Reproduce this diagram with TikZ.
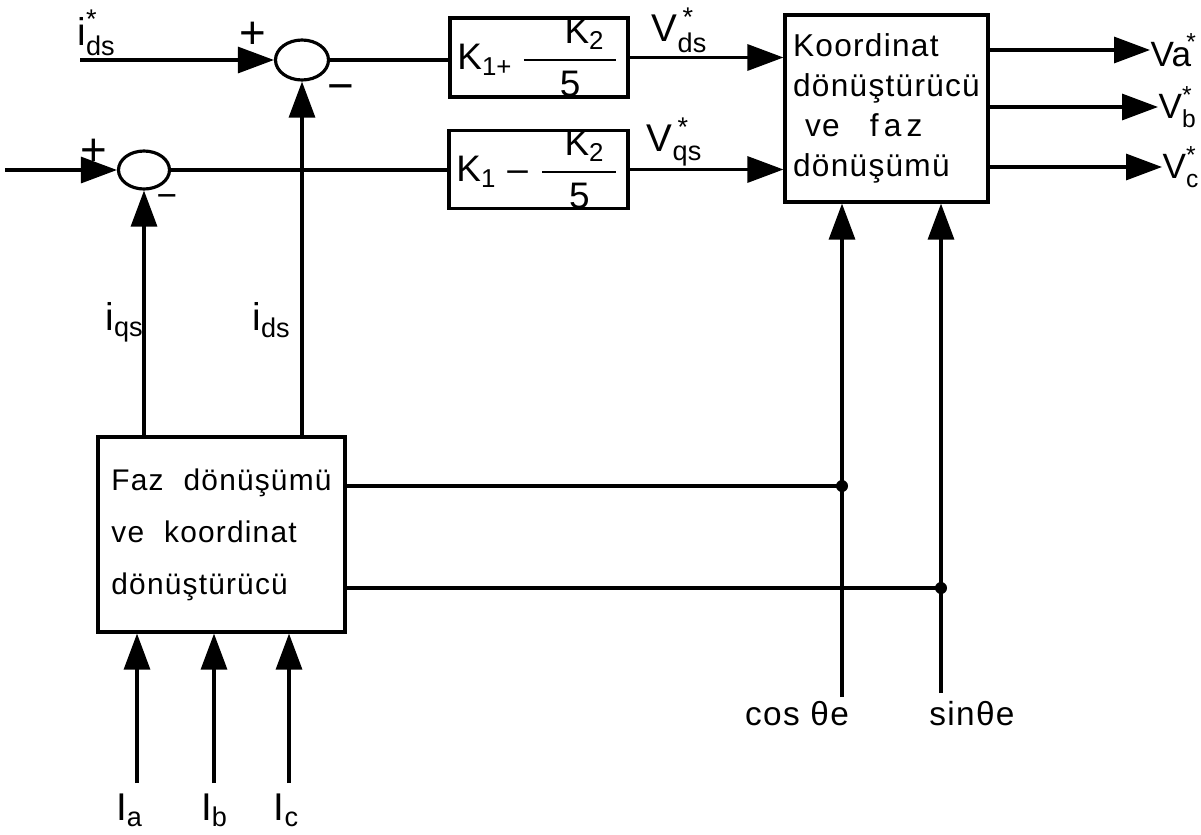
\documentclass[tikz,border=0pt]{standalone}
\usepackage{amsmath}
\usepackage{fontspec}
\setmainfont{Liberation Sans}
\newfontfamily\lett[LetterSpace=4]{Liberation Sans}
\usetikzlibrary{arrows.meta,positioning,calc,shapes.geometric}

\begin{document}
\begin{tikzpicture}[
  blk/.style={draw, line width=0.9pt, inner sep=0pt},
  sumj/.style={draw, ellipse, line width=0.9pt, inner sep=0pt},
  arrow/.style={-{Triangle[length=3.6mm,width=2.6mm]}, line width=0.9pt},
  wire/.style={line width=0.9pt},
  sig/.style={font=\fontsize{11}{13}\selectfont, inner sep=1pt},
  outsig/.style={font=\fontsize{10}{12}\selectfont, inner sep=0pt, anchor=west},
  sgn/.style={font=\fontsize{13}{13}\selectfont, inner sep=0pt},
  txt/.style={font=\lett\fontsize{9}{11.4}\selectfont, align=left}
]
\useasboundingbox (0,0) rectangle (12.01,-8.34);

% summing junctions
\node[sumj, minimum width=0.53cm, minimum height=0.40cm] (sumd) at (3.02,-0.60) {};
\node[sumj, minimum width=0.51cm, minimum height=0.38cm] (sumq) at (1.44,-1.70) {};

% controllers
\node[blk, minimum width=1.78cm, minimum height=0.79cm, font=\fontsize{10.5}{12}\selectfont] (kd) at (5.39,-0.575)
  {$\text{K}_{\text{1+}}\,\dfrac{\hspace{1.1em}\text{K}_{\text{2}}\hspace{0.3em}}{\text{5}}$};
\node[blk, minimum width=1.79cm, minimum height=0.77cm, font=\fontsize{10.5}{12}\selectfont] (kq) at (5.385,-1.695)
  {$\text{K}_{\text{1}}\ \text{–}\ \dfrac{\hspace{0.6em}\text{K}_{\text{2}}\hspace{0.3em}}{\text{5}}$};

% transformation blocks
\node[blk, txt, minimum width=2.03cm, minimum height=1.87cm] (tr) at (8.865,-1.085)
  {Koordinat\\dönüştürücü\\\hspace{1.2mm}ve\hspace{3mm}f\,a\,z\\dönüşümü};
\node[blk, txt, font=\lett\fontsize{8.5}{14.8}\selectfont, minimum width=2.47cm, minimum height=1.95cm] (ph) at (2.215,-5.345)
  {Faz\hspace{2mm}dönüşümü\\ve\hspace{2mm}koordinat\\dönüştürücü};

% signal labels
\node[sig] (lids) at (0.97,-0.33) {$\text{i}_{\text{ds}}^{\text{*}}$};
\node[sig] (lvd) at (6.80,-0.30) {$\text{V}_{\text{ds}}^{\,\text{*}}$};
\node[sig] (lvq) at (6.75,-1.42) {$\text{V}_{\text{qs}}^{\,\text{*}}$};
\node[sig] (lqs) at (1.25,-3.22) {$\text{i}_{\text{qs}}$};
\node[sig] (lds) at (2.72,-3.20) {$\text{i}_{\text{ds}}$};
\node[outsig] (va) at (11.50,-0.50) {$\text{Va}^{\!\text{*}}$};
\node[outsig] (vb) at (11.58,-1.07) {$\text{V}_{\text{b}}^{\text{*}}$};
\node[outsig] (vc) at (11.62,-1.67) {$\text{V}_{\text{c}}^{\text{*}}$};
\node[sig, font=\lett\fontsize{9.5}{11}\selectfont] (cosl) at (7.97,-7.14) {cos θe};
\node[sig, font=\lett\fontsize{9.5}{11}\selectfont] (sinl) at (9.72,-7.14) {sinθe};
\node[sig] (ia) at (1.30,-8.10) {$\text{I}_{\text{a}}$};
\node[sig] (ib) at (2.15,-8.10) {$\text{I}_{\text{b}}$};
\node[sig] (ic) at (2.87,-8.10) {$\text{I}_{\text{c}}$};

% signs
\node[sgn] (p1) at (2.53,-0.35) {+};
\node[sgn] (m1) at (3.41,-0.93) {−};
\node[sgn] (p2) at (0.94,-1.52) {+};
\node[sgn, font=\fontsize{10}{10}\selectfont] (m2) at (1.67,-2.01) {−};

% free ends
\coordinate (ids) at (0.80,-0.60);
\coordinate (iqs) at (0.05,-1.70);
\coordinate (cj) at (8.42,-4.86);
\coordinate (sj) at (9.41,-5.88);
\coordinate (cb) at (8.42,-6.97);
\coordinate (sb) at (9.41,-6.93);
\coordinate (ia0) at (1.37,-7.83);
\coordinate (ib0) at (2.14,-7.83);
\coordinate (ic0) at (2.89,-7.83);

% forward path
\draw[arrow] (ids) -- (sumd.west);
\draw[arrow] (iqs) -- (sumq.west);
\draw[wire] (sumd.east) -- (sumd.east -| kd.west);
\draw[wire] (sumq.east) -- (sumq.east -| kq.west);
\draw[arrow] (kd.east) -- (kd.east -| tr.west);
\draw[arrow] (kq.east) -- (kq.east -| tr.west);
\draw[arrow] (tr.east |- va.west) -- (va.west);
\draw[arrow] (tr.east |- vb.west) -- (vb.west);
\draw[arrow] (tr.east |- vc.west) -- (vc.west);

% feedback
\draw[arrow] (sumq.south |- ph.north) -- (sumq.south);
\draw[arrow] (sumd.south |- ph.north) -- (sumd.south);

% angle signals
\draw[wire] (ph.east |- cj) -- (cj);
\draw[wire] (ph.east |- sj) -- (sj);
\fill (cj) circle (0.06);
\fill (sj) circle (0.06);
\draw[arrow] (cb) -- (cb |- tr.south);
\draw[arrow] (sb) -- (sb |- tr.south);

% phase currents
\draw[arrow] (ia0) -- (ia0 |- ph.south);
\draw[arrow] (ib0) -- (ib0 |- ph.south);
\draw[arrow] (ic0) -- (ic0 |- ph.south);

\end{tikzpicture}
\end{document}
